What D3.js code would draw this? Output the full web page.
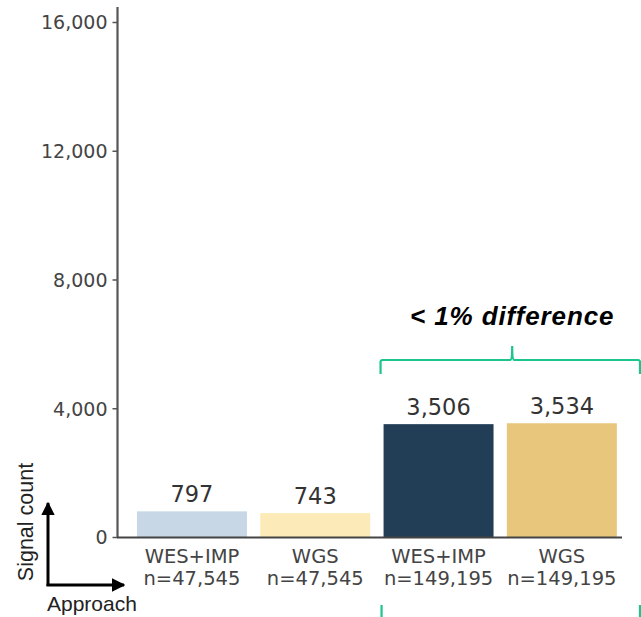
<!DOCTYPE html>
<html>
<head>
<meta charset="utf-8">
<script src="https://cdn.jsdelivr.net/npm/d3@7"></script>
<style>
  html, body { margin: 0; padding: 0; background: #fff; }
  svg { display: block; }
</style>
</head>
<body>
<svg id="chart" width="641" height="617"></svg>
<script>
const categories = ["WES+IMP", "WGS", "WES+IMP", "WGS"];
const sampleSizes = ["n=47,545", "n=47,545", "n=149,195", "n=149,195"];
const values = [797, 743, 3506, 3534];
const barColors = ["#c7d7e5", "#fcebb9", "#223e57", "#e8c67b"];
const yTicks = [0, 4000, 8000, 12000, 16000];
const annotation = "< 1% difference";

const svg = d3.select("#chart");
const fmt = d3.format(",");

const y = d3.scaleLinear().domain([0, 16000]).range([537, 22]);
const x = d3.scaleBand().domain(d3.range(values.length))
  .range([130.8, 623]).paddingInner(0.108).paddingOuter(0.05);

// Y axis
const yAxis = svg.append("g").attr("transform", "translate(117.5,0)")
  .call(d3.axisLeft(y).tickValues(yTicks).tickFormat(fmt).tickSize(5).tickSizeOuter(0));
yAxis.select(".domain").attr("d", "M0,537V7").attr("stroke", "#555").attr("stroke-width", 2.2);
yAxis.selectAll(".tick line").attr("stroke", "#555").attr("stroke-width", 1.5);
yAxis.selectAll(".tick text").attr("x", -10).attr("dy", "0.36em").attr("fill", "#444")
  .style("font-family", "DejaVu Sans, sans-serif").style("font-size", "19px");

// Bars
svg.append("g").selectAll("rect").data(values).join("rect")
  .attr("x", (d, i) => x(i))
  .attr("width", x.bandwidth())
  .attr("y", d => y(d))
  .attr("height", d => y(0) - y(d))
  .attr("fill", (d, i) => barColors[i]);

// X baseline
svg.append("line").attr("x1", 117).attr("x2", 622).attr("y1", 537.5).attr("y2", 537.5)
  .attr("stroke", "#444").attr("stroke-width", 2);

// Value labels
svg.append("g").selectAll("text").data(values).join("text")
  .attr("x", (d, i) => x(i) + x.bandwidth() / 2)
  .attr("y", d => y(d) - 9)
  .attr("text-anchor", "middle")
  .attr("fill", "#333")
  .style("font-family", "DejaVu Sans, sans-serif").style("font-size", "22.5px")
  .text(d => fmt(d));

// Category labels
const xl = svg.append("g").selectAll("g").data(categories).join("g")
  .attr("transform", (d, i) => `translate(${x(i) + x.bandwidth() / 2},0)`);
xl.append("text").attr("y", 563).attr("text-anchor", "middle").attr("fill", "#444")
  .style("font-family", "DejaVu Sans, sans-serif").style("font-size", "19.5px").text(d => d);
xl.append("text").attr("y", 585).attr("text-anchor", "middle").attr("fill", "#444")
  .style("font-family", "DejaVu Sans, sans-serif").style("font-size", "19.5px")
  .text((d, i) => sampleSizes[i]);

// Axis arrows
const defs = svg.append("defs");
defs.append("marker").attr("id", "arrow").attr("viewBox", "0 0 10 10")
  .attr("refX", 9).attr("refY", 5).attr("markerWidth", 4.5).attr("markerHeight", 4.5)
  .attr("orient", "auto")
  .append("path").attr("d", "M0,0L10,5L0,10z").attr("fill", "#000");
svg.append("path").attr("d", "M48,586V503").attr("stroke", "#000").attr("stroke-width", 3)
  .attr("fill", "none").attr("marker-end", "url(#arrow)");
svg.append("path").attr("d", "M46.5,585H124").attr("stroke", "#000").attr("stroke-width", 3)
  .attr("fill", "none").attr("marker-end", "url(#arrow)");

svg.append("text").attr("transform", "translate(33,522) rotate(-90)")
  .attr("text-anchor", "middle").attr("fill", "#222")
  .style("font-family", "Liberation Sans, Arial, sans-serif").style("font-size", "21.5px")
  .text("Signal count");
svg.append("text").attr("x", 47).attr("y", 611)
  .attr("text-anchor", "start").attr("fill", "#222")
  .style("font-family", "Liberation Sans, Arial, sans-serif").style("font-size", "21px")
  .text("Approach");

// Bracket annotation
const bx0 = x(2) - 3, bx1 = 640, bmid = (x(2) + x(3) + x.bandwidth()) / 2 + 12;
const green = "#1cc58b";
svg.append("path")
  .attr("d", `M${bx0},374V362Q${bx0},360 ${bx0 + 2},360H${bmid - 2}Q${bmid},360 ${bmid},346Q${bmid},360 ${bmid + 2},360H${bx1 - 2}Q${bx1},360 ${bx1},362V374`)
  .attr("fill", "none").attr("stroke", green).attr("stroke-width", 2.2);
svg.append("path").attr("d", `M${bx0 + 1},605V617M${bx1},605V617`)
  .attr("fill", "none").attr("stroke", green).attr("stroke-width", 2.2);

svg.append("text").attr("x", bmid).attr("y", 325).attr("text-anchor", "middle")
  .attr("fill", "#000")
  .style("font-family", "Liberation Sans, Arial, sans-serif").style("font-size", "26px")
  .style("font-style", "italic").style("font-weight", "bold").style("letter-spacing", "0.9px")
  .text(annotation);
</script>
</body>
</html>
